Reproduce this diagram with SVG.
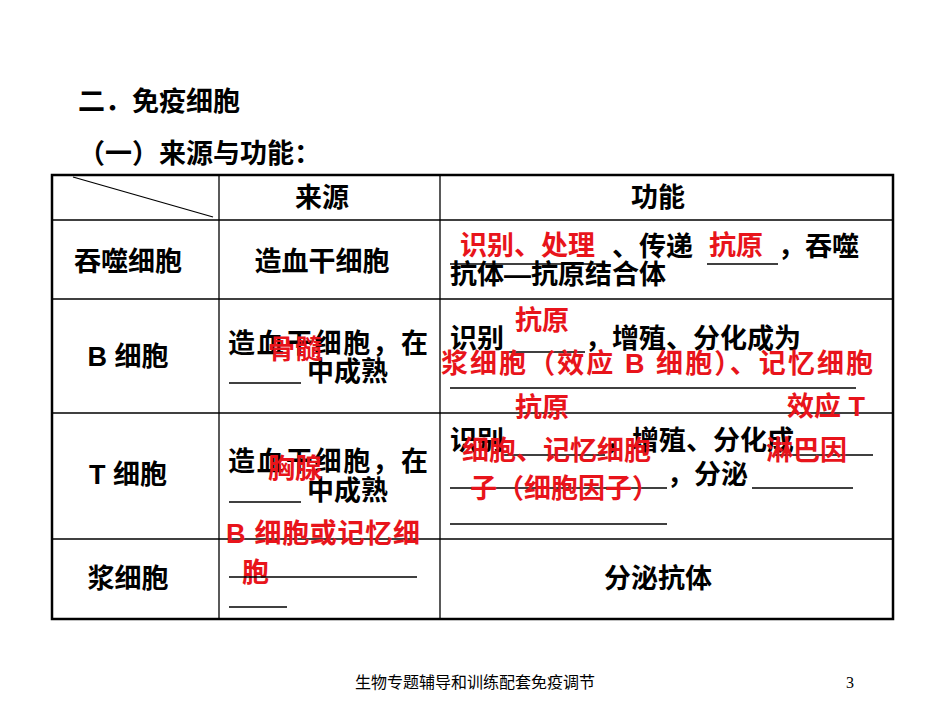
<svg xmlns="http://www.w3.org/2000/svg" width="950" height="713" viewBox="0 0 950 713">
<style>
text{font-family:"Liberation Sans","Noto Sans CJK SC",sans-serif;font-size:27px;font-weight:bold;fill:#000}
.r{fill:#e8141b}
.f{font-size:16px;font-weight:normal;font-family:"Liberation Serif","Noto Sans CJK SC",serif}
.g line{stroke:#000;stroke-width:1.3}
.u{stroke:#000;stroke-width:1.3}
</style>
<rect width="950" height="713" fill="#fff"/>
<text x="78" y="111">二．免疫细胞</text>
<text x="78" y="163">（一）来源与功能：</text>
<g id="table" class="g">
<rect x="52" y="175" width="841" height="444" fill="none" stroke="#000" stroke-width="2.5"/>
<line x1="219" y1="175" x2="219" y2="619"/>
<line x1="440" y1="175" x2="440" y2="619"/>
<line x1="52" y1="220" x2="893" y2="220"/>
<line x1="52" y1="299" x2="893" y2="299"/>
<line x1="52" y1="413" x2="893" y2="413"/>
<line x1="52" y1="539" x2="893" y2="539"/>
<line x1="73" y1="177" x2="213" y2="217"/>
</g>
<g id="header">
<text x="322" y="207" text-anchor="middle">来源</text>
<text x="658" y="207" text-anchor="middle">功能</text>
</g>
<g id="row1">
<text x="128" y="271" text-anchor="middle">吞噬细胞</text>
<text x="322" y="271" text-anchor="middle">造血干细胞</text>
<line class="u" x1="450" y1="264" x2="605" y2="264"/>
<line class="u" x1="707" y1="264" x2="778" y2="264"/>
<text x="612" y="256">、传递</text>
<text x="778" y="256">，吞噬</text>
<text x="450" y="284">抗体—抗原结合体</text>
<text class="r" x="460" y="255">识别、处理</text>
<text class="r" x="709" y="255">抗原</text>
</g>
<g id="row2">
<text x="128" y="366" text-anchor="middle">B 细胞</text>
<text x="228" y="353" textLength="200">造血干细胞，在</text>
<line class="u" x1="229" y1="383" x2="301" y2="383"/>
<text x="307" y="381">中成熟</text>
<text class="r" x="268" y="359">骨髓</text>
<text x="450" y="348">识别</text>
<line class="u" x1="503" y1="352" x2="585" y2="352"/>
<text x="585" y="348">，增殖、分化成为</text>
<line class="u" x1="450" y1="388" x2="856" y2="388"/>
<text class="r" x="515" y="330">抗原</text>
<text class="r" x="441" y="373" textLength="432">浆细胞（效应 B 细胞）、记忆细胞</text>
</g>
<g id="row3">
<text x="128" y="484" text-anchor="middle">T 细胞</text>
<text x="228" y="471" textLength="200">造血干细胞，在</text>
<line class="u" x1="229" y1="502" x2="301" y2="502"/>
<text x="307" y="500">中成熟</text>
<text class="r" x="268" y="478">胸腺</text>
<text x="450" y="450">识别</text>
<line class="u" x1="503" y1="455" x2="605" y2="455"/>
<text x="605" y="450">，增殖、分化成</text>
<line class="u" x1="775" y1="455" x2="873" y2="455"/>
<line class="u" x1="450" y1="488" x2="667" y2="488"/>
<text x="667" y="484">，分泌</text>
<line class="u" x1="752" y1="488" x2="853" y2="488"/>
<line class="u" x1="450" y1="524" x2="667" y2="524"/>
<text class="r" x="515" y="417">抗原</text>
<text class="r" x="787" y="416">效应 T</text>
<text class="r" x="462" y="460">细胞、记忆细胞</text>
<text class="r" x="766" y="460">淋巴因</text>
<text class="r" x="470" y="498">子（细胞因子）</text>
</g>
<g id="row4">
<text x="128" y="588" text-anchor="middle">浆细胞</text>
<text class="r" x="226" y="543" textLength="194">B 细胞或记忆细</text>
<text class="r" x="242" y="582">胞</text>
<line class="u" x1="229" y1="577" x2="417" y2="577"/>
<line class="u" x1="229" y1="607" x2="287" y2="607"/>
<text x="658" y="588" text-anchor="middle">分泌抗体</text>
</g>
<text class="f" x="475" y="688" text-anchor="middle">生物专题辅导和训练配套免疫调节</text>
<text class="f" x="846" y="688">3</text>
</svg>
